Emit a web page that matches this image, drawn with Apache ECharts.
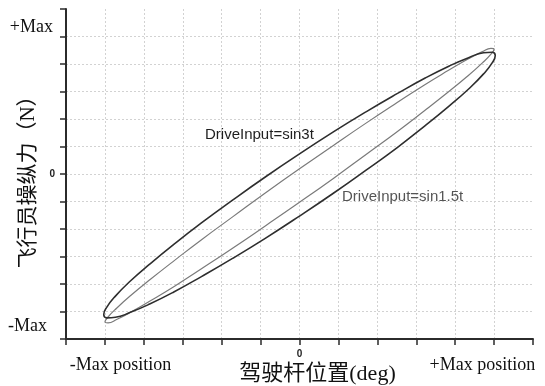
<!DOCTYPE html>
<html>
<head>
<meta charset="utf-8">
<style>
  html, body { margin: 0; padding: 0; background: #fff; }
  #chart { width: 545px; height: 386px; }
</style>
<script src="https://cdn.jsdelivr.net/npm/echarts@6/dist/echarts.min.js"></script>
</head>
<body>
<div id="chart"></div>
<script>
// Stick position (ticks) vs. pilot force (ticks) traced around each loop
const outerX = [0, 0.87, 1.72, 2.52, 3.23, 3.85, 4.36, 4.73, 4.95, 5.03, 4.95, 4.73, 4.36, 3.85, 3.23, 2.52, 1.72, 0.87,
                0, -0.87, -1.72, -2.52, -3.23, -3.85, -4.36, -4.73, -4.95, -5.03, -4.95, -4.73, -4.36, -3.85, -3.23, -2.52, -1.72, -0.87];
const outerY = [0.73, 1.53, 2.27, 2.93, 3.49, 3.93, 4.24, 4.41, 4.43, 4.31, 4.04, 3.64, 3.11, 2.48, 1.76, 0.97, 0.15, -0.70,
                -1.53, -2.33, -3.07, -3.73, -4.29, -4.73, -5.04, -5.21, -5.23, -5.11, -4.84, -4.44, -3.91, -3.28, -2.56, -1.78, -0.95, -0.10];
const innerX = [0, 0.87, 1.71, 2.50, 3.21, 3.83, 4.33, 4.70, 4.92, 5.00, 4.92, 4.70, 4.33, 3.83, 3.21, 2.50, 1.71, 0.87,
                0, -0.87, -1.71, -2.50, -3.21, -3.83, -4.33, -4.70, -4.92, -5.00, -4.92, -4.70, -4.33, -3.83, -3.21, -2.50, -1.71, -0.87];
const innerY = [0.19, 1.04, 1.85, 2.59, 3.24, 3.77, 4.18, 4.45, 4.57, 4.54, 4.36, 4.04, 3.57, 2.99, 2.30, 1.53, 0.71, -0.16,
                -1.03, -1.88, -2.69, -3.43, -4.08, -4.61, -5.02, -5.29, -5.41, -5.38, -5.20, -4.88, -4.41, -3.83, -3.14, -2.37, -1.55, -0.68];

const seriesNames = ['DriveInput=sin3t', 'DriveInput=sin1.5t'];
const xTickValues = [-4.6, 0, 4.7];
const xTickLabels = ['-Max position', '0', '+Max position'];
const yTickValues = [-5.53, 0, 5.35];
const yTickLabels = ['-Max', '0', '+Max'];
const xTitle = '驾驶杆位置(deg)';
const yTitle = '飞行员操纵力（N）';
// where each loop's caption sits, in axis units
const captionAt = [[-1.03, 1.42], [2.65, -0.84]];

function loop(xs, ys) {
  const pts = xs.map((x, i) => [x, ys[i]]);
  pts.push(pts[0]);
  return pts;
}

const chart = echarts.init(document.getElementById('chart'), null, { renderer: 'canvas' });

const serif = '"Liberation Serif", "Noto Sans CJK SC", serif';
const gridLine = { show: true, showMaxLine: false, lineStyle: { color: '#d2d2d2', type: [2, 2], width: 1 } };
const axisLine = { show: true, onZero: false, lineStyle: { color: '#2b2b2b', width: 2 } };
const axisTick = { show: true, inside: false, length: 6, lineStyle: { color: '#2b2b2b', width: 1.5 } };

function captionPoint(i, color) {
  return {
    symbol: 'none',
    silent: true,
    data: [{
      coord: captionAt[i],
      symbol: 'circle',
      symbolSize: 0,
      label: {
        show: true,
        position: 'inside',
        formatter: seriesNames[i],
        color: color,
        fontFamily: '"Liberation Sans", Arial, sans-serif',
        fontSize: 15
      }
    }]
  };
}

chart.setOption({
  animation: false,
  backgroundColor: '#fff',
  grid: { left: 66, right: 12, top: 9, bottom: 47, containLabel: false, outerBoundsMode: 'none' },
  xAxis: {
    type: 'value',
    min: -6, max: 6, interval: 1,
    axisLine: axisLine,
    axisTick: axisTick,
    splitLine: gridLine,
    axisLabel: {
      customValues: xTickValues,
      margin: 10,
      formatter: (v) => {
        const i = xTickValues.indexOf(v);
        return v === 0 ? '{z|' + xTickLabels[i] + '}' : '{a|' + xTickLabels[i] + '}';
      },
      rich: {
        z: { fontSize: 10, fontWeight: 'bold', fontFamily: '"Liberation Sans", sans-serif', color: '#222' },
        a: { fontSize: 18, lineHeight: 18, padding: [14, 0, 0, 0], fontFamily: serif, color: '#111' }
      }
    },
    name: xTitle,
    nameLocation: 'middle',
    nameGap: 24,
    nameMoveOverlap: false,
    nameTextStyle: { fontSize: 22, fontFamily: serif, color: '#111', padding: [0, 0, 0, 36] }
  },
  yAxis: {
    type: 'value',
    min: -6, max: 6, interval: 1,
    axisLine: axisLine,
    axisTick: axisTick,
    splitLine: gridLine,
    axisLabel: {
      customValues: yTickValues,
      margin: 11,
      formatter: (v) => {
        const i = yTickValues.indexOf(v);
        if (v === 0) return '{z|' + yTickLabels[i] + '}';
        return v > 0 ? '{p|' + yTickLabels[i] + '}' : '{m|' + yTickLabels[i] + '}';
      },
      rich: {
        z: { fontSize: 10, fontWeight: 'bold', fontFamily: '"Liberation Sans", sans-serif', color: '#222' },
        p: { fontSize: 18, fontFamily: serif, color: '#111', padding: [0, 2, 0, 0] },
        m: { fontSize: 18, fontFamily: serif, color: '#111', padding: [0, 8, 0, 0] }
      }
    },
    name: yTitle,
    nameLocation: 'middle',
    nameGap: 27,
    nameMoveOverlap: false,
    nameTextStyle: { fontSize: 21, fontFamily: serif, color: '#111', padding: [0, 6, 0, 0] }
  },
  series: [
    {
      name: seriesNames[0],
      type: 'line',
      data: loop(outerX, outerY),
      smooth: true,
      showSymbol: false,
      lineStyle: { color: '#2e2e2e', width: 1.6 },
      markPoint: captionPoint(0, '#1e1e1e'),
      z: 3
    },
    {
      name: seriesNames[1],
      type: 'line',
      data: loop(innerX, innerY),
      smooth: true,
      showSymbol: false,
      lineStyle: { color: '#7a7a7a', width: 1.2 },
      markPoint: captionPoint(1, '#555'),
      z: 2
    }
  ]
});
</script>
</body>
</html>
